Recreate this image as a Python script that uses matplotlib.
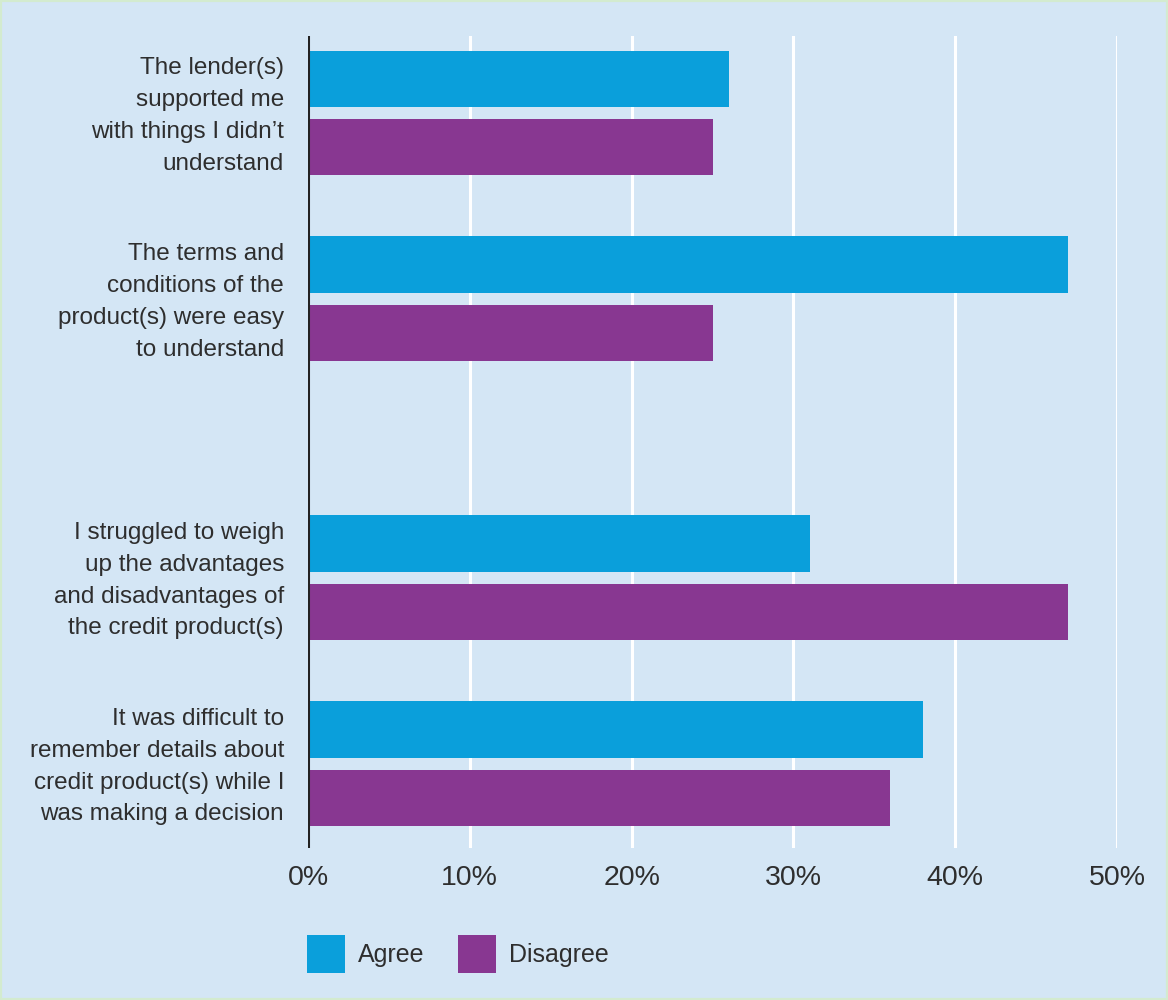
import numpy as np
import matplotlib.pyplot as plt
from matplotlib.patches import Rectangle
from matplotlib.transforms import ScaledTranslation

# Veriler
categories = [
    "The lender(s)\nsupported me\nwith things I didn\u2019t\nunderstand",
    "The terms and\nconditions of the\nproduct(s) were easy\nto understand",
    "I struggled to weigh\nup the advantages\nand disadvantages of\nthe credit product(s)",
    "It was difficult to\nremember details about\ncredit product(s) while I\nwas making a decision",
]
agree = [26, 47, 31, 38]
disagree = [25, 25, 47, 36]
xticks = [0, 10, 20, 30, 40, 50]
xtick_labels = ["0%", "10%", "20%", "30%", "40%", "50%"]

blue = "#0a9fdb"
purple = "#883791"
bg = "#d4e6f5"
text_c = "#2e2e2e"

plt.rcParams['font.family'] = ['Liberation Sans', 'DejaVu Sans']

fig = plt.figure(figsize=(11.68, 10), dpi=100, facecolor=bg)
fig.patches.append(Rectangle((0, 0), 1, 1, transform=fig.transFigure,
                             facecolor='none', edgecolor='#d3ebcf', linewidth=3))

ax = fig.add_axes([308 / 1168, 1 - 848 / 1000, (1117 - 308) / 1168, (848 - 36) / 1000])
ax.set_facecolor(bg)

# grup konumlari (ucuncu grup oncesi bosluk var)
pos = np.array([0, 1, 2.5, 3.5])
h = 0.306
off = 0.183

ax.barh(pos - off, agree, height=h, color=blue, label="Agree", zorder=3)
ax.barh(pos + off, disagree, height=h, color=purple, label="Disagree", zorder=3)

ax.set_xlim(0, 50)
ax.set_ylim(3.952, -0.414)

for xv in xticks[1:]:
    ax.axvline(xv, color='white', linewidth=2.2, zorder=1)
ax.axvline(0, color='#222222', linewidth=2.2, zorder=4)

for s in ax.spines.values():
    s.set_visible(False)

ax.set_xticks(xticks)
ax.set_xticklabels(xtick_labels, fontsize=20.5, color=text_c)
ax.tick_params(axis='x', length=0, pad=12)

# kategori etiketleri (eksenin soluna, saga hizali)
ax.set_yticks([])
shift = ScaledTranslation(-24 / 100, -3 / 100, fig.dpi_scale_trans)
for p, lab in zip(pos, categories):
    ax.text(0, p, lab, transform=ax.get_yaxis_transform() + shift,
            ha='right', va='center', multialignment='right',
            fontsize=17.5, color=text_c, linespacing=1.57)

leg = ax.legend(loc='upper left', bbox_to_anchor=(-0.013, -0.095), ncol=2,
                frameon=False, fontsize=18, handlelength=1.52, handleheight=1.96,
                handletextpad=0.5, columnspacing=1.35, borderaxespad=0)
for t in leg.get_texts():
    t.set_color(text_c)

fig.savefig("out.png", dpi=100, facecolor=bg)
